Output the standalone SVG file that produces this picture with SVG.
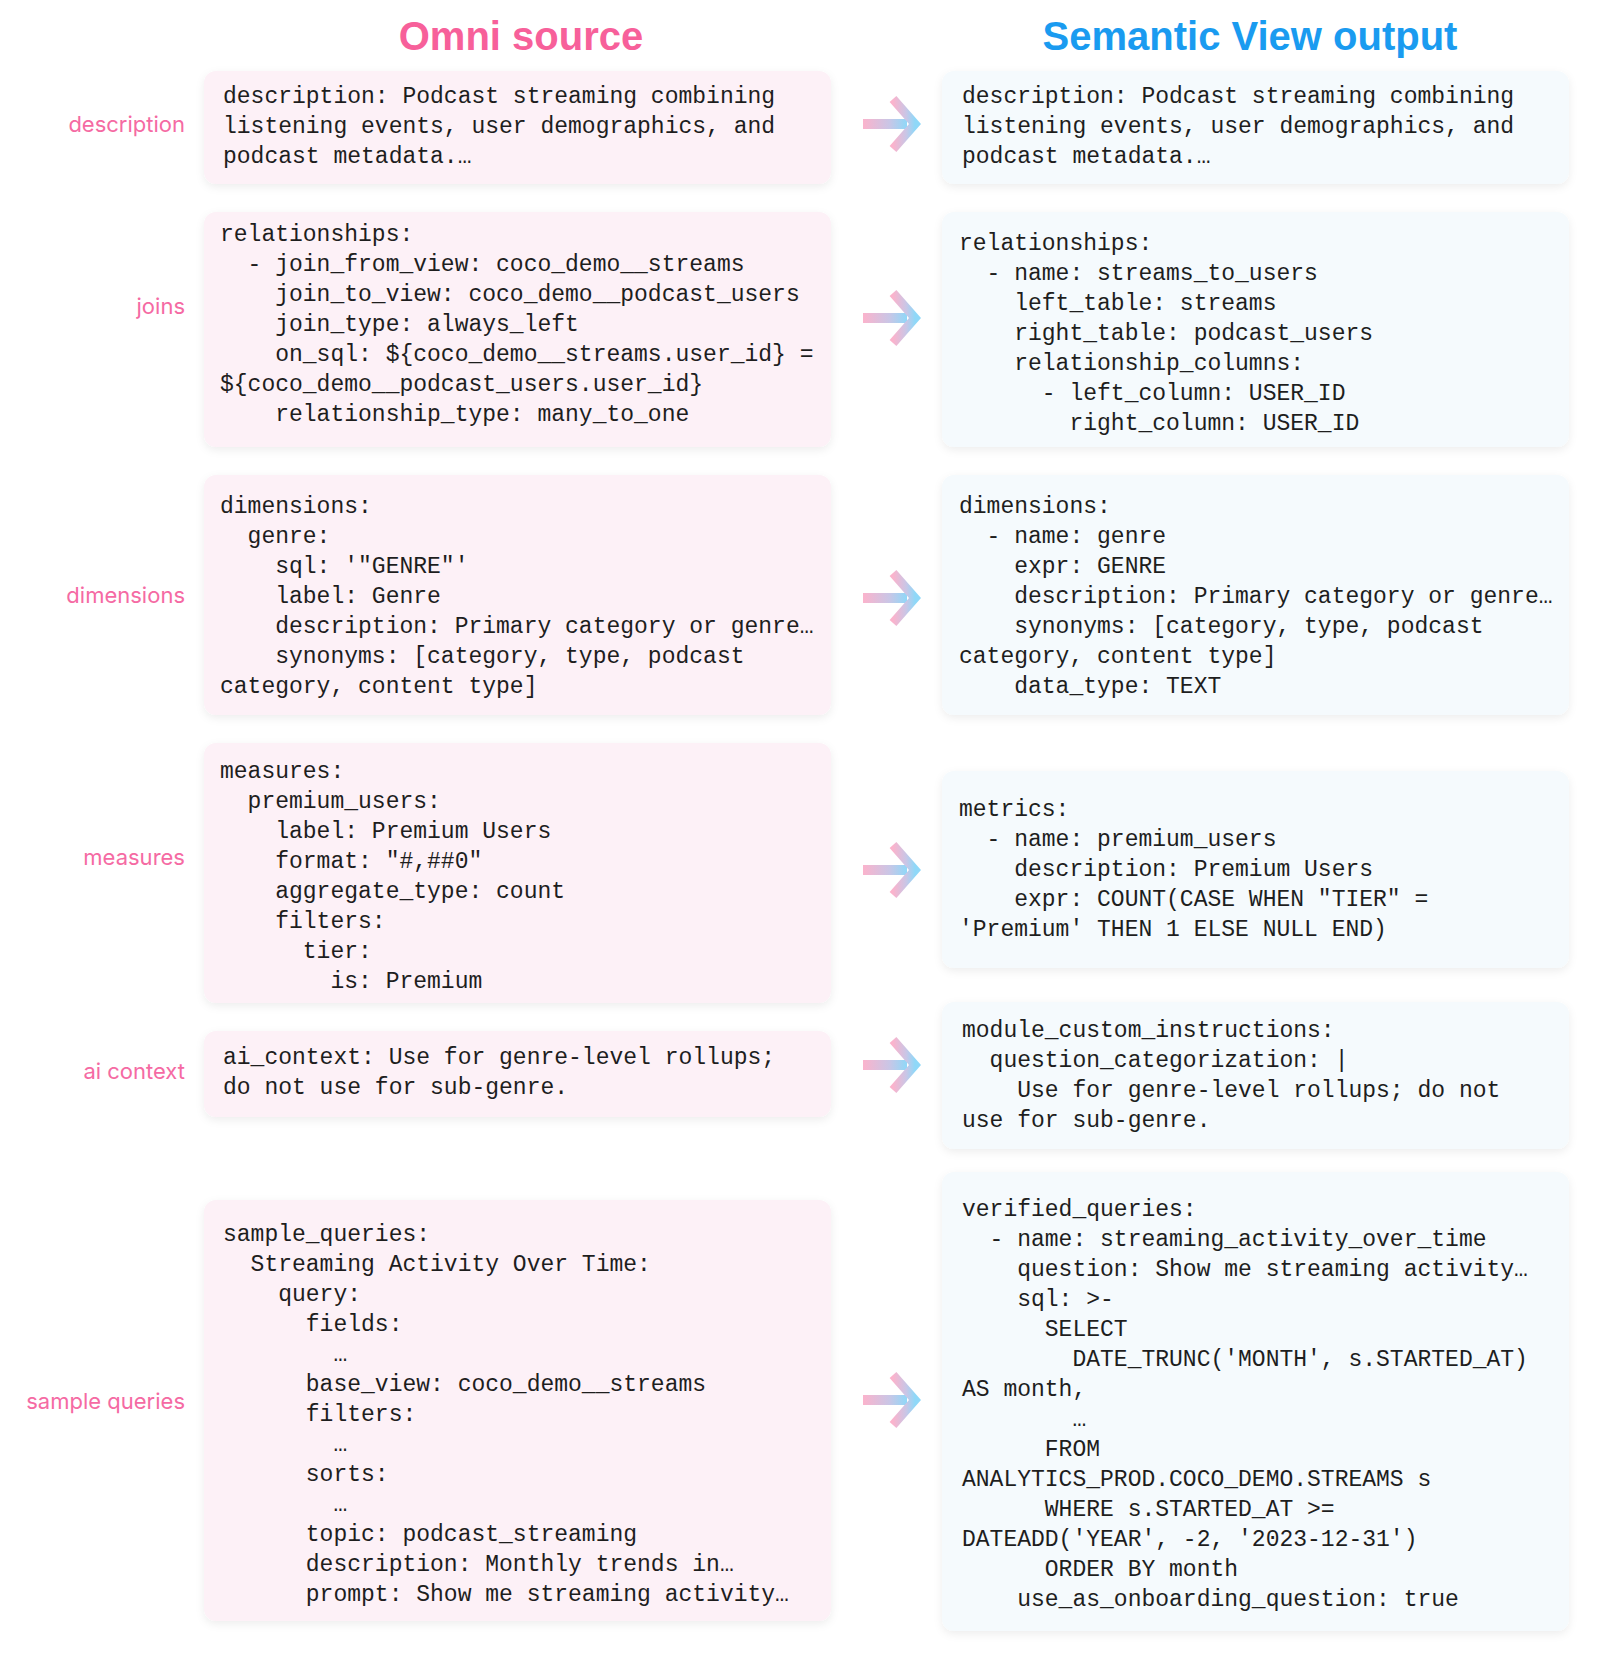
<svg xmlns="http://www.w3.org/2000/svg" width="1600" height="1655" viewBox="0 0 1600 1655">
<defs>
<linearGradient id="ag" x1="0" y1="0" x2="1" y2="0"><stop offset="0" stop-color="#fbb3cc"/><stop offset="0.6" stop-color="#c9c6e6"/><stop offset="1" stop-color="#8fd8f8"/></linearGradient>
<filter id="sh" x="-5%" y="-10%" width="110%" height="125%"><feDropShadow dx="0" dy="3" stdDeviation="4" flood-color="#000" flood-opacity="0.07"/></filter>
<g id="arr"><rect x="0" y="-5" width="44" height="10" fill="url(#ag)"/><polyline points="30,-25 52,0 30,25" fill="none" stroke="url(#ag)" stroke-width="9" stroke-linejoin="miter"/></g>
</defs>
<style>
.t{font-family:"Liberation Sans",Arial,sans-serif;font-weight:bold;font-size:40px;text-anchor:middle}
.lb{font-family:"Inter","Liberation Sans",sans-serif;font-size:22px;fill:#f56aa3;text-anchor:end}
.c{font-family:"Liberation Mono","DejaVu Sans Mono",monospace;font-size:23px;fill:#1e1e1e;white-space:pre}
.L{fill:#fdf1f7;filter:url(#sh)}
.R{fill:#f5fafd;filter:url(#sh)}
</style>
<rect width="1600" height="1655" fill="#fff"/>
<text class="t" x="521" y="50" fill="#f7609a">Omni source</text>
<text class="t" x="1250" y="50" fill="#1a9bf0">Semantic View output</text>
<g id="labels">
<text class="lb" x="185" y="132">description</text>
<text class="lb" x="185" y="314">joins</text>
<text class="lb" x="185" y="603">dimensions</text>
<text class="lb" x="185" y="865">measures</text>
<text class="lb" x="185" y="1079">ai context</text>
<text class="lb" x="185" y="1409">sample queries</text>
</g>
<g id="connectors">
<use href="#arr" x="863" y="124"/>
<use href="#arr" x="863" y="318"/>
<use href="#arr" x="863" y="598"/>
<use href="#arr" x="863" y="870"/>
<use href="#arr" x="863" y="1065"/>
<use href="#arr" x="863" y="1400"/>
</g>
<g id="src-description"><rect class="L" x="204" y="71" width="627" height="113" rx="12"/>
<text class="c" xml:space="preserve"><tspan x="223" y="103">description: Podcast streaming combining</tspan><tspan x="223" y="133">listening events, user demographics, and</tspan><tspan x="223" y="163">podcast metadata.…</tspan></text></g>
<g id="out-description"><rect class="R" x="942" y="71" width="627" height="113" rx="12"/>
<text class="c" xml:space="preserve"><tspan x="962" y="103">description: Podcast streaming combining</tspan><tspan x="962" y="133">listening events, user demographics, and</tspan><tspan x="962" y="163">podcast metadata.…</tspan></text></g>
<g id="src-joins"><rect class="L" x="204" y="212" width="627" height="235" rx="12"/>
<text class="c" xml:space="preserve"><tspan x="220" y="241">relationships:</tspan><tspan x="220" y="271">  - join_from_view: coco_demo__streams</tspan><tspan x="220" y="301">    join_to_view: coco_demo__podcast_users</tspan><tspan x="220" y="331">    join_type: always_left</tspan><tspan x="220" y="361">    on_sql: ${coco_demo__streams.user_id} =</tspan><tspan x="220" y="391">${coco_demo__podcast_users.user_id}</tspan><tspan x="220" y="421">    relationship_type: many_to_one</tspan></text></g>
<g id="out-joins"><rect class="R" x="942" y="212" width="627" height="235" rx="12"/>
<text class="c" xml:space="preserve"><tspan x="959" y="250">relationships:</tspan><tspan x="959" y="280">  - name: streams_to_users</tspan><tspan x="959" y="310">    left_table: streams</tspan><tspan x="959" y="340">    right_table: podcast_users</tspan><tspan x="959" y="370">    relationship_columns:</tspan><tspan x="959" y="400">      - left_column: USER_ID</tspan><tspan x="959" y="430">        right_column: USER_ID</tspan></text></g>
<g id="src-dimensions"><rect class="L" x="204" y="475" width="627" height="240" rx="12"/>
<text class="c" xml:space="preserve"><tspan x="220" y="513">dimensions:</tspan><tspan x="220" y="543">  genre:</tspan><tspan x="220" y="573">    sql: '"GENRE"'</tspan><tspan x="220" y="603">    label: Genre</tspan><tspan x="220" y="633">    description: Primary category or genre…</tspan><tspan x="220" y="663">    synonyms: [category, type, podcast</tspan><tspan x="220" y="693">category, content type]</tspan></text></g>
<g id="out-dimensions"><rect class="R" x="942" y="475" width="627" height="240" rx="12"/>
<text class="c" xml:space="preserve"><tspan x="959" y="513">dimensions:</tspan><tspan x="959" y="543">  - name: genre</tspan><tspan x="959" y="573">    expr: GENRE</tspan><tspan x="959" y="603">    description: Primary category or genre…</tspan><tspan x="959" y="633">    synonyms: [category, type, podcast</tspan><tspan x="959" y="663">category, content type]</tspan><tspan x="959" y="693">    data_type: TEXT</tspan></text></g>
<g id="src-measures"><rect class="L" x="204" y="743" width="627" height="260" rx="12"/>
<text class="c" xml:space="preserve"><tspan x="220" y="778">measures:</tspan><tspan x="220" y="808">  premium_users:</tspan><tspan x="220" y="838">    label: Premium Users</tspan><tspan x="220" y="868">    format: "#,##0"</tspan><tspan x="220" y="898">    aggregate_type: count</tspan><tspan x="220" y="928">    filters:</tspan><tspan x="220" y="958">      tier:</tspan><tspan x="220" y="988">        is: Premium</tspan></text></g>
<g id="out-measures"><rect class="R" x="942" y="771" width="627" height="197" rx="12"/>
<text class="c" xml:space="preserve"><tspan x="959" y="816">metrics:</tspan><tspan x="959" y="846">  - name: premium_users</tspan><tspan x="959" y="876">    description: Premium Users</tspan><tspan x="959" y="906">    expr: COUNT(CASE WHEN "TIER" =</tspan><tspan x="959" y="936">'Premium' THEN 1 ELSE NULL END)</tspan></text></g>
<g id="src-ai"><rect class="L" x="204" y="1031" width="627" height="86" rx="12"/>
<text class="c" xml:space="preserve"><tspan x="223" y="1064">ai_context: Use for genre-level rollups;</tspan><tspan x="223" y="1094">do not use for sub-genre.</tspan></text></g>
<g id="out-ai"><rect class="R" x="942" y="1002" width="627" height="147" rx="12"/>
<text class="c" xml:space="preserve"><tspan x="962" y="1037">module_custom_instructions:</tspan><tspan x="962" y="1067">  question_categorization: |</tspan><tspan x="962" y="1097">    Use for genre-level rollups; do not</tspan><tspan x="962" y="1127">use for sub-genre.</tspan></text></g>
<g id="src-samples"><rect class="L" x="204" y="1200" width="627" height="421" rx="12"/>
<text class="c" xml:space="preserve"><tspan x="223" y="1241">sample_queries:</tspan><tspan x="223" y="1271">  Streaming Activity Over Time:</tspan><tspan x="223" y="1301">    query:</tspan><tspan x="223" y="1331">      fields:</tspan><tspan x="223" y="1361">        …</tspan><tspan x="223" y="1391">      base_view: coco_demo__streams</tspan><tspan x="223" y="1421">      filters:</tspan><tspan x="223" y="1451">        …</tspan><tspan x="223" y="1481">      sorts:</tspan><tspan x="223" y="1511">        …</tspan><tspan x="223" y="1541">      topic: podcast_streaming</tspan><tspan x="223" y="1571">      description: Monthly trends in…</tspan><tspan x="223" y="1601">      prompt: Show me streaming activity…</tspan></text></g>
<g id="out-samples"><rect class="R" x="942" y="1172" width="627" height="459" rx="12"/>
<text class="c" xml:space="preserve"><tspan x="962" y="1216">verified_queries:</tspan><tspan x="962" y="1246">  - name: streaming_activity_over_time</tspan><tspan x="962" y="1276">    question: Show me streaming activity…</tspan><tspan x="962" y="1306">    sql: &gt;-</tspan><tspan x="962" y="1336">      SELECT</tspan><tspan x="962" y="1366">        DATE_TRUNC('MONTH', s.STARTED_AT)</tspan><tspan x="962" y="1396">AS month,</tspan><tspan x="962" y="1426">        …</tspan><tspan x="962" y="1456">      FROM</tspan><tspan x="962" y="1486">ANALYTICS_PROD.COCO_DEMO.STREAMS s</tspan><tspan x="962" y="1516">      WHERE s.STARTED_AT &gt;=</tspan><tspan x="962" y="1546">DATEADD('YEAR', -2, '2023-12-31')</tspan><tspan x="962" y="1576">      ORDER BY month</tspan><tspan x="962" y="1606">    use_as_onboarding_question: true</tspan></text></g>
</svg>
